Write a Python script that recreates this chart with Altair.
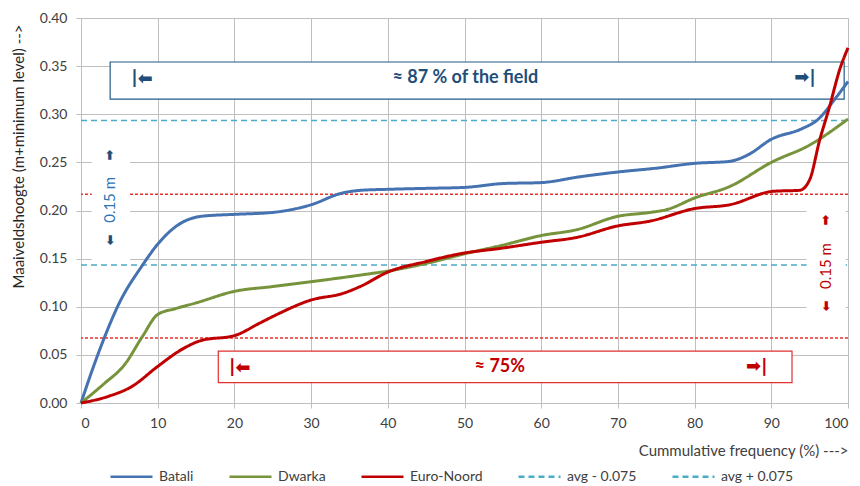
import altair as alt
import pandas as pd

# ---------------- data ----------------
bat_x = [0, 1.5, 3, 5, 8, 10, 12.3, 15.7, 20, 25, 30, 34, 36.5, 40, 45, 50, 55, 60, 65, 70, 75, 80, 84.5, 87, 90, 94, 96, 98.5, 100]
bat_y = [0, 0.035, 0.067, 0.104, 0.143, 0.165, 0.183, 0.194, 0.196, 0.198, 0.206, 0.218, 0.221, 0.222, 0.223, 0.224, 0.228, 0.229, 0.235, 0.240, 0.244, 0.249, 0.251, 0.258, 0.274, 0.285, 0.294, 0.318, 0.334]

dwa_x = [0, 3, 5.7, 8, 10, 12.3, 15, 20, 25, 30, 36.5, 40.7, 45, 50, 55, 60, 64.6, 70, 74.2, 76.4, 80, 84.6, 90, 95, 100]
dwa_y = [0, 0.020, 0.040, 0.069, 0.092, 0.098, 0.104, 0.116, 0.121, 0.126, 0.133, 0.138, 0.145, 0.155, 0.164, 0.174, 0.180, 0.194, 0.198, 0.201, 0.213, 0.225, 0.250, 0.268, 0.295]

eur_x = [0, 3.6, 6.6, 10, 13, 15.7, 20, 23.3, 25.3, 30, 34.2, 36.4, 40, 45, 49.4, 55, 60, 64.6, 70, 74.2, 80, 84.6, 90.3, 93.7, 95, 96.3, 97.6, 98.9, 100]
eur_y = [0, 0.007, 0.017, 0.038, 0.055, 0.065, 0.070, 0.083, 0.091, 0.107, 0.114, 0.121, 0.136, 0.147, 0.155, 0.161, 0.167, 0.172, 0.184, 0.189, 0.202, 0.206, 0.220, 0.221, 0.232, 0.273, 0.308, 0.346, 0.369]

series_names = ["Batali", "Dwarka", "Euro-Noord", "avg - 0.075", "avg + 0.075"]
series_colors = ["#4572b0", "#77933c", "#c00000", "#4bacc6", "#4bacc6"]
series_dash = [[1, 0], [1, 0], [1, 0], [6, 4], [6, 4]]
avg_levels = [0.1435, 0.2935]          # avg - 0.075, avg + 0.075
red_levels = [0.0675, 0.217]           # red dotted band
x_ticks = [0, 10, 20, 30, 40, 50, 60, 70, 80, 90, 100]
y_ticks = [0, 0.05, 0.10, 0.15, 0.20, 0.25, 0.30, 0.35, 0.40]

# annotation boxes (data coordinates)
blue_box = {"x": [3.8], "x2": [99.5], "y": [0.3543], "y2": [0.3158]}
red_box = {"x": [17.9], "x2": [92.7], "y": [0.054], "y2": [0.0211]}
mask_box = {"x": [1.4, 94.6], "x2": [6.4, 99.7], "y": [0.146, 0.075], "y2": [0.27, 0.212]}

big_text = {"x": [50.1, 54.6], "y": [0.3377, 0.0377], "t": ["≈  87 % of the field", "≈ 75%"], "c": ["#1f4e79", "#c00000"]}
arrow_r = {"x": [94.4, 88.1], "y": [0.3377, 0.0377], "c": ["#1f4e79", "#c00000"]}
arrow_l = {"x": [7.95, 20.7], "y": [0.3377, 0.0377], "c": ["#1f4e79", "#c00000"]}
vtext = {"x": [3.78, 97.1], "y": [0.211, 0.1423], "t": ["0.15 m", "0.15 m"], "c": ["#2e75b6", "#c00000"]}
arrow_up = {"x": [3.78, 97.1], "y": [0.2577, 0.190], "c": ["#1f4e79", "#c00000"]}
arrow_dn = {"x": [3.78, 97.1], "y": [0.1694, 0.1008], "c": ["#1f4e79", "#c00000"]}

# ---------------- tables ----------------
rows = []
for name, xs_, ys_ in [("Batali", bat_x, bat_y), ("Dwarka", dwa_x, dwa_y), ("Euro-Noord", eur_x, eur_y)]:
    rows += [{"series": name, "x": a, "y": b} for a, b in zip(xs_, ys_)]
curves = pd.DataFrame(rows)

avg_rows = []
for name, lvl in zip(series_names[3:], avg_levels):
    avg_rows += [{"series": name, "x": x_ticks[0], "y": lvl}, {"series": name, "x": x_ticks[-1], "y": lvl}]
avg_df = pd.DataFrame(avg_rows)

FONT = "Lato"
GRID = "#bfbfbf"

xs = alt.Scale(domain=[0, 100], nice=False, zero=False)
ys = alt.Scale(domain=[0, 0.4], nice=False)
x_axis = alt.Axis(values=x_ticks, format="d", grid=True, gridColor=GRID, domainColor=GRID,
                  tickColor=GRID, tickSize=5, labelPadding=8, labelFont=FONT, labelFontSize=14,
                  labelColor="#404040", title="Cummulative frequency (%) --->", titleFont=FONT,
                  titleFontSize=15, titleFontWeight="normal", titleColor="#404040",
                  titleAnchor="end", titleY=47, titleBaseline="middle")
y_axis = alt.Axis(values=y_ticks, format=".2f", grid=True, gridColor=GRID, domainColor=GRID,
                  tickColor=GRID, tickSize=5, labelPadding=9, labelFont=FONT, labelFontSize=14,
                  labelColor="#404040", title="Maaiveldshoogte (m+minimum level) -->", titleFont=FONT,
                  titleFontSize=15, titleFontWeight="normal", titleColor="#262626",
                  titleAngle=270, titleX=-63, titleY=138, titleAlign="center", titleBaseline="middle")

X = alt.X("x:Q", scale=xs, axis=x_axis)
Y = alt.Y("y:Q", scale=ys, axis=y_axis)

legend = alt.Legend(orient="none", legendX=28, legendY=436, direction="horizontal", title=None,
                    symbolType="stroke", symbolSize=1764, symbolStrokeWidth=2.5, labelOffset=5,
                    columnPadding=30, labelFont=FONT, labelFontSize=14, labelColor="#404040")
color = alt.Color("series:N", scale=alt.Scale(domain=series_names, range=series_colors), legend=legend)
dash = alt.StrokeDash("series:N", scale=alt.Scale(domain=series_names, range=series_dash), legend=legend)

avg_layer = alt.Chart(avg_df).mark_line(strokeWidth=1.5).encode(x=X, y=Y, color=color, strokeDash=dash, detail="series:N")

red_rules = alt.Chart(pd.DataFrame({"y": red_levels})).mark_rule(
    color="#e8302a", strokeWidth=1.5, strokeDash=[3, 2]).encode(y=Y)

masks = alt.Chart(pd.DataFrame(mask_box)).mark_rect(fill="white", strokeWidth=0).encode(
    x=X, x2="x2:Q", y=Y, y2="y2:Q")
bbox = alt.Chart(pd.DataFrame(blue_box)).mark_rect(fill="white", stroke="#1f5c8b", strokeWidth=1.2).encode(
    x=X, x2="x2:Q", y=Y, y2="y2:Q")
rbox = alt.Chart(pd.DataFrame(red_box)).mark_rect(fill="white", stroke="#e03030", strokeWidth=1.2).encode(
    x=X, x2="x2:Q", y=Y, y2="y2:Q")

C = alt.Color("c:N", scale=None, legend=None)
big = alt.Chart(pd.DataFrame(big_text)).mark_text(font=FONT, fontSize=18, fontWeight="bold",
                                                  align="center", baseline="middle").encode(x=X, y=Y, text="t:N", color=C)
ar_r = alt.Chart(pd.DataFrame(arrow_r)).mark_text(font="DejaVu Sans", fontSize=18, fontWeight="bold",
                                                 align="center", baseline="middle", text="➡|").encode(x=X, y=Y, color=C)
ar_l = alt.Chart(pd.DataFrame(arrow_l)).mark_text(font="DejaVu Sans", fontSize=18, fontWeight="bold",
                                                 align="center", baseline="middle", text="➡|", angle=180).encode(x=X, y=Y, color=C)
vt = alt.Chart(pd.DataFrame(vtext)).mark_text(font=FONT, fontSize=15, align="center", baseline="middle",
                                             angle=270).encode(x=X, y=Y, text="t:N", color=C)
ar_u = alt.Chart(pd.DataFrame(arrow_up)).mark_text(font="DejaVu Sans", fontSize=13, fontWeight="bold",
                                                  align="center", baseline="middle", text="➡", angle=270).encode(x=X, y=Y, color=C)
ar_d = alt.Chart(pd.DataFrame(arrow_dn)).mark_text(font="DejaVu Sans", fontSize=13, fontWeight="bold",
                                                  align="center", baseline="middle", text="➡", angle=90).encode(x=X, y=Y, color=C)

curve_layer = alt.Chart(curves).mark_line(strokeWidth=3, interpolate="monotone").encode(
    x=X, y=Y, color=color, strokeDash=dash, detail="series:N")

chart = alt.layer(avg_layer, red_rules, masks, bbox, rbox, big, ar_r, ar_l, vt, ar_u, ar_d, curve_layer).properties(
    width=767, height=385,
    autosize=alt.AutoSizeParams(type="none"),
    padding={"left": 73, "top": 10, "right": 4, "bottom": 85},
).configure_view(stroke=None).configure(background="white")

chart.save("out.html", embed_options={"renderer": "svg", "actions": False})
